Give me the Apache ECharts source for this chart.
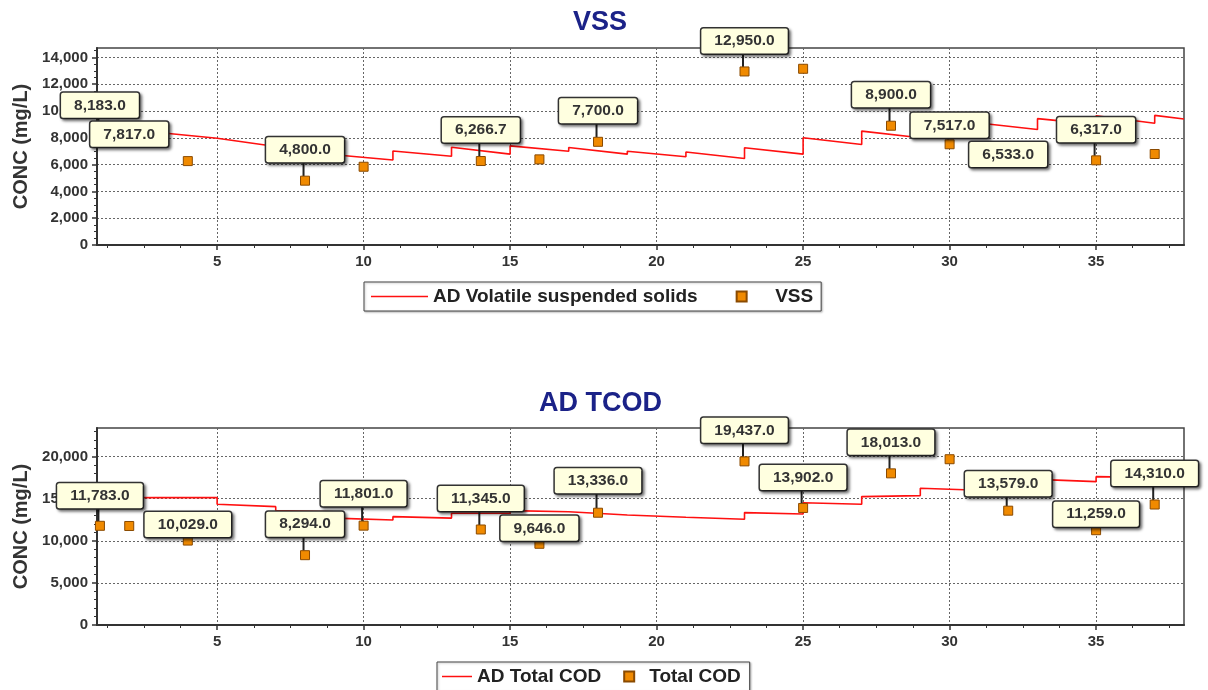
<!DOCTYPE html>
<html>
<head>
<meta charset="utf-8">
<script src="https://cdn.jsdelivr.net/npm/echarts@6/dist/echarts.min.js"></script>
<style>
  html, body { margin: 0; padding: 0; background: #fff; }
  #chart { width: 1208px; height: 690px; }
</style>
</head>
<body>
<div id="chart"></div>
<script>
// ---- Measured VSS (mg/L) by day ----
const vssDays   = [1, 2, 4, 8, 10, 14, 16, 18, 23, 25, 28, 30, 32, 35, 37];
const vssValues = [8183.0, 7817.0, 6260, 4800.0, 5840, 6266.7, 6390, 7700.0, 12950.0, 13150, 8900.0, 7517.0, 6533.0, 6317.0, 6790];
const vssLabelled = [true, true, false, true, false, true, false, true, true, false, true, true, true, true, false];

// ---- Simulated AD volatile suspended solids (mg/L) ----
const vssModelDays   = [1, 3, 5, 7, 9, 11, 11, 13, 13, 15, 15, 17, 17, 19, 19, 21, 21, 23, 23, 25, 25, 27, 27, 29, 29, 31, 31, 33, 33, 35, 35, 37, 37, 38];
const vssModelValues = [8750, 8400, 7960, 7350, 6740, 6340, 7010, 6620, 7300, 6780, 7400, 7000, 7270, 6780, 7000, 6590, 6940, 6460, 7260, 6780, 8000, 7500, 8500, 8000, 8600, 8100, 9100, 8620, 9430, 9000, 9640, 9080, 9670, 9400];

// ---- Measured total COD (mg/L) by day ----
const codDays   = [1, 2, 4, 8, 10, 14, 16, 18, 23, 25, 28, 30, 32, 35, 37];
const codValues = [11783.0, 11760, 10029.0, 8294.0, 11801.0, 11345.0, 9646.0, 13336.0, 19437.0, 13902.0, 18013.0, 19690, 13579.0, 11259.0, 14310.0];
const codLabelled = [true, false, true, true, true, true, true, true, true, true, true, false, true, true, true];

// ---- Simulated AD total COD (mg/L) ----
const codModelDays   = [1, 3, 3, 5, 5, 7, 7, 9, 9, 11, 11, 13, 13, 15, 15, 17, 17, 19, 19, 21, 21, 23, 23, 25, 25, 27, 27, 29, 29, 31, 31, 33, 33, 35, 35, 37, 37, 38];
const codModelValues = [15100, 15150, 15250, 15130, 14340, 14060, 13590, 13450, 12700, 12480, 12870, 12700, 13270, 13270, 13590, 13460, 13270, 13070, 12870, 12800, 12680, 12560, 13350, 13190, 14530, 14340, 15250, 15370, 16240, 16000, 16800, 16900, 17300, 17030, 17620, 17500, 17800, 17750];

// ---- Axis ticks ----
const xMajorTicks = [5, 10, 15, 20, 25, 30, 35];
const xMinorTicks = [1.25, 2.5, 3.75, 6.25, 7.5, 8.75, 11.25, 12.5, 13.75, 16.25, 17.5, 18.75,
                     21.25, 22.5, 23.75, 26.25, 27.5, 28.75, 31.25, 32.5, 33.75, 36.25, 37.5];
const vssYTicks = [0, 2000, 4000, 6000, 8000, 10000, 12000, 14000];
const codYTicks = [0, 5000, 10000, 15000, 20000];

// callout placement (vertical shift of each value box from its marker, px)
const vssLabelShift = [-30, -6, 0, -31, 0, -31, 0, -31, -30.5, 0, -31, -19, -3, -30.5, 0];
const codLabelShift = [-30, 0, -16, -31, -32, -31, -15.5, -32, -31, -30.5, -31, 0, -27, -16, -31];

const FONT = "'Liberation Sans', Arial, sans-serif";
const X_MIN = 0.9, X_MAX = 38;

const fmtValue = v => v.toLocaleString('en-US', { minimumFractionDigits: 1, maximumFractionDigits: 1 });
const fmtTick = v => v.toLocaleString('en-US');
const pairs = (xs, ys) => xs.map((x, i) => [x, ys[i]]);

function pointItems(days, values, labelled, shifts) {
  return days.map((d, i) => {
    const item = { value: [d, values[i]] };
    if (labelled[i]) {
      item.label = { show: true, position: 'inside', offset: [0, shifts[i]] };
    }
    return item;
  });
}

function xAxesFor(gridIndex) {
  return [
    {
      type: 'value', gridIndex, min: X_MIN, max: X_MAX, position: 'bottom',
      axisLine: { onZero: false, lineStyle: { color: '#333', width: 2 } },
      axisTick: { customValues: xMajorTicks, length: 5, lineStyle: { color: '#333', width: 1.5 } },
      axisLabel: { customValues: xMajorTicks, margin: 9, color: '#333', fontWeight: 'bold', fontSize: 15, fontFamily: FONT },
      splitLine: { show: true, lineStyle: { color: '#666', width: 1, type: [2, 2] } }
    },
    {
      type: 'value', gridIndex, min: X_MIN, max: X_MAX, position: 'bottom',
      axisLine: { show: false },
      axisTick: { customValues: xMinorTicks, length: 3, lineStyle: { color: '#333', width: 1 } },
      axisLabel: { show: false },
      splitLine: { show: false }
    }
  ];
}

function yAxesFor(gridIndex, max, ticks, minorStep) {
  const minor = [];
  for (let v = minorStep; v < max; v += minorStep) {
    if (ticks.indexOf(v) < 0) minor.push(v);
  }
  return [
    {
      type: 'value', gridIndex, min: 0, max, position: 'left',
      name: 'CONC (mg/L)', nameLocation: 'middle', nameGap: 66,
      nameTextStyle: { fontSize: 20, fontWeight: 'bold', color: '#333', fontFamily: FONT },
      axisLine: { show: true, onZero: false, lineStyle: { color: '#333', width: 2 } },
      axisTick: { customValues: ticks, length: 5, lineStyle: { color: '#333', width: 1.5 } },
      axisLabel: { customValues: ticks, formatter: fmtTick, margin: 9, color: '#333', fontWeight: 'bold', fontSize: 15, fontFamily: FONT },
      splitLine: { show: true, lineStyle: { color: '#666', width: 1, type: [2, 2] } }
    },
    {
      type: 'value', gridIndex, min: 0, max, position: 'left',
      axisLine: { show: false },
      axisTick: { customValues: minor, length: 3, lineStyle: { color: '#333', width: 1 } },
      axisLabel: { show: false },
      splitLine: { show: false }
    }
  ];
}

const calloutLabel = {
  show: false,
  formatter: p => fmtValue(p.value[1]),
  backgroundColor: '#ffffe0',
  borderColor: '#333',
  borderWidth: 1.5,
  borderRadius: 2,
  padding: [4.5, 13],
  lineHeight: 16,
  fontSize: 15.5,
  fontWeight: 'bold',
  color: '#333',
  opacity: 1,
  fontFamily: FONT,
  shadowColor: 'rgba(0,0,0,0.45)',
  shadowBlur: 3,
  shadowOffsetX: 2,
  shadowOffsetY: 2
};

const calloutLine = { show: true, lineStyle: { color: '#222', width: 2, opacity: 1 } };

const markerStyle = { color: '#f08a00', borderColor: '#8a4a00', borderWidth: 1, opacity: 1 };

const legendBase = {
  orient: 'horizontal',
  itemHeight: 10,
  selectedMode: false,
  borderColor: '#444',
  borderWidth: 1,
  backgroundColor: '#fff',
  shadowColor: 'rgba(0,0,0,0.25)',
  shadowBlur: 2,
  shadowOffsetX: 1,
  shadowOffsetY: 1,
  textStyle: { fontSize: 19, fontWeight: 'bold', color: '#222', fontFamily: FONT }
};

const squareIcon = 'path://M0 0H10V10H0Z';
const lineIconWide = 'path://M0 0H38V1H0Z';
const lineIconShort = 'path://M0 0H20V1H0Z';

const option = {
  animation: false,
  backgroundColor: '#fff',
  title: [
    { text: 'VSS', left: 573, top: 9, padding: 0,
      textStyle: { color: '#1b2288', fontSize: 27, fontWeight: 'bold', fontFamily: FONT } },
    { text: 'AD TCOD', left: 539, top: 390, padding: 0,
      textStyle: { color: '#1b2288', fontSize: 27, fontWeight: 'bold', fontFamily: FONT } }
  ],
  legend: [
    Object.assign({}, legendBase, {
      left: 364, top: 282, itemWidth: 57, itemGap: 38, padding: [5, 8, 5, 7],
      data: [{ name: 'AD Volatile suspended solids', icon: lineIconWide }, { name: 'VSS', icon: squareIcon }]
    }),
    Object.assign({}, legendBase, {
      left: 437, top: 662, itemWidth: 30, itemGap: 22, padding: [5, 9, 5, 5],
      data: [{ name: 'AD Total COD', icon: lineIconShort }, { name: 'Total COD', icon: squareIcon }]
    })
  ],
  grid: [
    { left: 97, right: 24, top: 48, bottom: 445, show: true, borderColor: '#444', borderWidth: 1.5, backgroundColor: '#fff' },
    { left: 97, right: 24, top: 428, bottom: 65, show: true, borderColor: '#444', borderWidth: 1.5, backgroundColor: '#fff' }
  ],
  xAxis: [].concat(xAxesFor(0), xAxesFor(1)),
  yAxis: [].concat(yAxesFor(0, 14700, vssYTicks, 500), yAxesFor(1, 23400, codYTicks, 1000)),
  series: [
    {
      type: 'line', name: 'AD Volatile suspended solids', xAxisIndex: 0, yAxisIndex: 0, z: 2,
      data: pairs(vssModelDays, vssModelValues), symbol: 'none',
      lineStyle: { color: '#ff1010', width: 1.6 }, itemStyle: { color: '#ff1010' }
    },
    {
      type: 'scatter', name: 'VSS', xAxisIndex: 0, yAxisIndex: 0, z: 4,
      symbol: 'rect', symbolSize: 9, itemStyle: markerStyle,
      data: pointItems(vssDays, vssValues, vssLabelled, vssLabelShift),
      label: calloutLabel, labelLine: calloutLine
    },
    {
      type: 'line', name: 'AD Total COD', xAxisIndex: 2, yAxisIndex: 2, z: 2,
      data: pairs(codModelDays, codModelValues), symbol: 'none',
      lineStyle: { color: '#ff1010', width: 1.6 }, itemStyle: { color: '#ff1010' }
    },
    {
      type: 'scatter', name: 'Total COD', xAxisIndex: 2, yAxisIndex: 2, z: 4,
      symbol: 'rect', symbolSize: 9, itemStyle: markerStyle,
      data: pointItems(codDays, codValues, codLabelled, codLabelShift),
      label: calloutLabel, labelLine: calloutLine
    }
  ]
};

const chart = echarts.init(document.getElementById('chart'), null, { renderer: 'canvas' });
chart.setOption(option);
</script>
</body>
</html>
